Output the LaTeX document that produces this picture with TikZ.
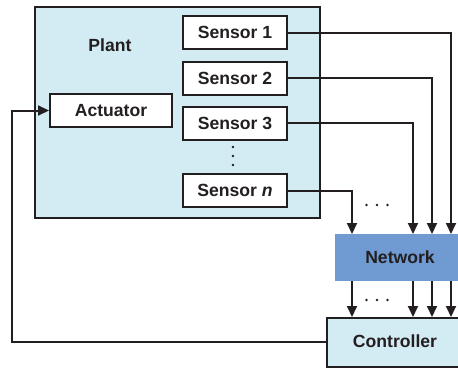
\documentclass[tikz,border=0pt]{standalone}
\usepackage{fontspec}
\setmainfont{Liberation Sans}
\usetikzlibrary{arrows.meta}
\definecolor{plantfill}{HTML}{D3EBF2}
\definecolor{netfill}{HTML}{6F9BD2}
\definecolor{ink}{HTML}{231F20}
\begin{document}
\begin{tikzpicture}[x=1pt,y=-1pt,
  every node/.style={font=\fontsize{17.6}{20}\selectfont\bfseries, text=ink},
  frame/.style={draw=ink, line width=2pt},
  unit/.style={frame, fill=white, minimum width=104pt, minimum height=33pt, inner sep=0pt},
  wire/.style={draw=ink, line width=2pt},
  arr/.style={wire, -{Triangle[length=11pt,width=10pt]}},
  dot/.style={fill=ink}]
\useasboundingbox (0,0) rectangle (458,367);

% plant enclosure
\node[frame, fill=plantfill, minimum width=285pt, minimum height=211pt, inner sep=0pt, anchor=north west] (plant) at (34,6) {};
\node (plantlbl) at (110,45) {Plant};

% actuator and sensors
\node[unit, minimum width=122pt] (act) at (111,110.5) {Actuator};
\node[unit] (s1) at (235,32.5) {Sensor 1};
\node[unit] (s2) at (235,78) {Sensor 2};
\node[unit] (s3) at (235,123) {Sensor 3};
\node[unit] (sn) at (235,190.5) {Sensor \textit{n}};

% vertical ellipsis between sensor 3 and sensor n
\foreach \y in {147,156,165}
  \fill[dot] (233,\y) circle (1.4pt);

% network and controller
\node[fill=netfill, minimum width=130pt, minimum height=47pt, inner sep=0pt, anchor=north west] (net) at (335,234) {};
\node (netlbl) at (400,257.5) {Network};
\node[frame, fill=plantfill, minimum width=139pt, minimum height=49pt, inner sep=0pt, anchor=north west] (ctrl) at (326,317) {};
\node (ctrllbl) at (395,341.5) {Controller};

% channel columns
\coordinate (c1) at (451,0);
\coordinate (c2) at (432,0);
\coordinate (c3) at (413,0);
\coordinate (cn) at (352,0);

% sensor links into the network
\draw[arr] (s1.east) -| (net.north -| c1);
\draw[arr] (s2.east) -| (net.north -| c2);
\draw[arr] (s3.east) -| (net.north -| c3);
\draw[arr] (sn.east) -| (net.north -| cn);
\foreach \x in {366.5,377,387.5}
  \fill[dot] (\x,205) circle (1.4pt);

% network links into the controller
\foreach \c in {c1,c2,c3,cn}
  \draw[arr] (net.south -| \c) -- (ctrl.north -| \c);
\foreach \x in {366.5,377,387.5}
  \fill[dot] (\x,300) circle (1.4pt);

% feedback to the actuator
\coordinate (fb) at (12,342);
\draw[arr] (ctrl.west |- fb) -- (fb) |- (act.west);
\end{tikzpicture}
\end{document}
